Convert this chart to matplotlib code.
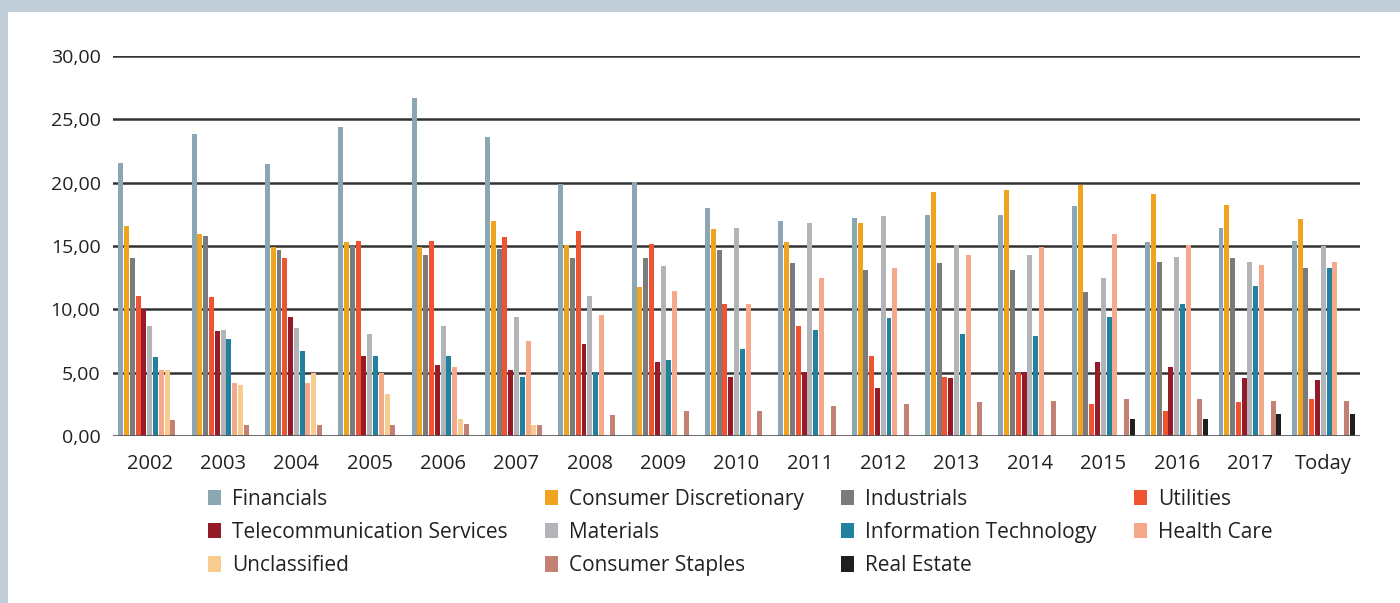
import numpy as np
import matplotlib
matplotlib.use("Agg")
import matplotlib.pyplot as plt
from matplotlib.patches import Rectangle

plt.rcParams['font.family'] = ['Open Sans', 'DejaVu Sans']

years = ['2002', '2003', '2004', '2005', '2006', '2007', '2008', '2009', '2010',
         '2011', '2012', '2013', '2014', '2015', '2016', '2017', 'Today']

financials = [21.55, 23.84, 21.47, 24.39, 26.68, 23.60, 19.89, 20.05, 18.00,
              16.97, 17.21, 17.45, 17.45, 18.16, 15.32, 16.43, 15.41]
consumer_disc = [16.58, 15.95, 14.92, 15.32, 14.92, 16.97, 15.08, 11.76, 16.34,
                 15.32, 16.82, 19.26, 19.42, 19.82, 19.10, 18.25, 17.15]
industrials = [14.05, 15.79, 14.68, 15.00, 14.29, 14.76, 14.05, 14.05, 14.68,
               13.66, 13.10, 13.66, 13.10, 11.37, 13.74, 14.05, 13.27]
utilities = [11.05, 10.97, 14.05, 15.39, 15.39, 15.71, 16.18, 15.16, 10.42,
             8.68, 6.32, 4.66, 4.97, 2.53, 1.97, 2.67, 2.90]
telecom = [10.00, 8.29, 9.39, 6.32, 5.61, 5.21, 7.26, 5.84, 4.66,
           5.05, 3.79, 4.58, 5.05, 5.84, 5.45, 4.57, 4.41]
materials = [8.68, 8.37, 8.53, 8.05, 8.68, 9.39, 11.05, 13.42, 16.42,
             16.82, 17.37, 15.08, 14.29, 12.47, 14.13, 13.75, 15.00]
info_tech = [6.24, 7.66, 6.71, 6.32, 6.32, 4.66, 5.05, 6.00, 6.87,
             8.37, 9.32, 8.05, 7.89, 9.39, 10.42, 11.85, 13.27]
health_care = [5.21, 4.18, 4.18, 4.97, 5.45, 7.50, 9.55, 11.45, 10.42,
               12.47, 13.26, 14.29, 14.92, 15.95, 15.08, 13.50, 13.75]
unclassified = [5.21, 4.03, 4.97, 3.32, 1.34, 0.87, 0, 0, 0,
                0, 0, 0, 0, 0, 0, 0, 0]
consumer_staples = [1.26, 0.87, 0.87, 0.87, 0.95, 0.87, 1.66, 1.97, 1.97,
                    2.37, 2.53, 2.68, 2.76, 2.92, 2.92, 2.74, 2.74]
real_estate = [0, 0, 0, 0, 0, 0, 0, 0, 0,
               0, 0, 0, 0, 1.34, 1.34, 1.72, 1.72]

series = [
    ('Financials', financials, '#8ba7b3'),
    ('Consumer Discretionary', consumer_disc, '#f0a31f'),
    ('Industrials', industrials, '#7a7b7e'),
    ('Utilities', utilities, '#ee5431'),
    ('Telecommunication Services', telecom, '#951b28'),
    ('Materials', materials, '#b3b4b7'),
    ('Information Technology', info_tech, '#22819e'),
    ('Health Care', health_care, '#f6a98a'),
    ('Unclassified', unclassified, '#f7cc8e'),
    ('Consumer Staples', consumer_staples, '#c38174'),
    ('Real Estate', real_estate, '#221e1f'),
]

fig = plt.figure(figsize=(14, 6.03), dpi=100, facecolor='white')
# grey frame at top and left
fig.patches.append(Rectangle((0, 0), 1, 1, transform=fig.transFigure,
                             facecolor='#c1ced7', edgecolor='none', zorder=-10))
fig.patches.append(Rectangle((8 / 1400, 0), 1, 1 - 12 / 603, transform=fig.transFigure,
                             facecolor='white', edgecolor='none', zorder=-9))

ax = fig.add_axes([113 / 1400, (603 - 436) / 603, 1247 / 1400, 380 / 603])
ax.set_facecolor('none')

x = np.arange(len(years))
slot = 0.079
width = 0.068
handles = {}
for i, (name, vals, col) in enumerate(series):
    off = (i - (len(series) - 1) / 2) * slot
    b = ax.bar(x + off, vals, width=width, color=col, zorder=2, label=name)
    handles[name] = b

ax.set_xlim(-0.5, len(years) - 0.5)
ax.set_ylim(0, 30)
ticks = np.arange(0, 31, 5)
ax.set_yticks(ticks)
ax.set_yticklabels([('%.2f' % v).replace('.', ',') for v in ticks])
for v in ticks[1:]:
    ax.axhline(v, color='#333333', lw=1.8, zorder=1)
ax.axhline(0, color='#555555', lw=2.2, alpha=0.85, zorder=3)

ax.set_xticks(x)
ax.set_xticklabels(years)
ax.tick_params(axis='both', length=0, labelsize=14, colors='#222222')
ax.tick_params(axis='x', labelsize=14.5, pad=13)
ax.tick_params(axis='y', pad=9)
for s in ax.spines.values():
    s.set_visible(False)

# row-wise legend order for 4 columns
order = ['Financials', 'Telecommunication Services', 'Unclassified',
         'Consumer Discretionary', 'Materials', 'Consumer Staples',
         'Industrials', 'Information Technology', 'Real Estate',
         'Utilities', 'Health Care']
leg = fig.legend([handles[n] for n in order], order, ncol=4,
                 loc='upper left', bbox_to_anchor=(208 / 1400, 1 - 489 / 603),
                 frameon=False, fontsize=15, handlelength=0.6, handleheight=0.75,
                 handletextpad=0.55, columnspacing=1.8, labelspacing=0.58,
                 borderaxespad=0, borderpad=0)
for t in leg.get_texts():
    t.set_color('#222222')

fig.savefig('out.png', dpi=100, facecolor=fig.get_facecolor())
